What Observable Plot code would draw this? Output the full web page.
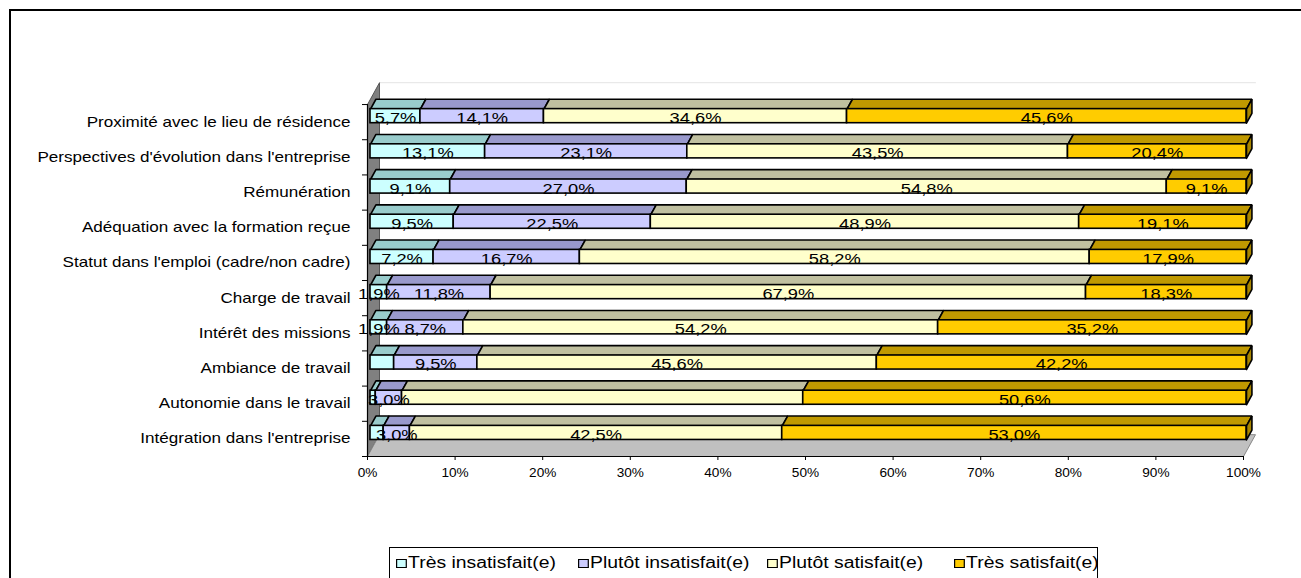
<!DOCTYPE html>
<html><head><meta charset="utf-8">
<script src="https://cdn.jsdelivr.net/npm/d3@7"></script>
<script src="https://cdn.jsdelivr.net/npm/@observablehq/plot@0.6"></script>
<style>
body{margin:0;background:#fff;font-family:Arial,"Liberation Sans",sans-serif;overflow:hidden;width:1301px;height:578px;position:relative}
#frame{position:absolute;left:9px;top:9px;width:1400px;height:700px;border:2px solid #000;box-sizing:border-box}
#chart{position:absolute;left:0;top:0;width:1301px}
#legend{position:absolute;left:389px;top:547px;width:709px;height:40px;border:1px solid #000;background:#fff;box-sizing:border-box}
.item{position:absolute;top:6px;font-size:16px;white-space:nowrap;display:flex;align-items:center;transform:scaleX(1.21);transform-origin:left center}
.sw{display:inline-block;width:7px;height:7px;border:1.5px solid #000;margin-right:1px}
</style></head><body>
<div id="frame"></div>
<div id="chart"></div>
<div id="legend"></div>
<script>
// ---- data ----
const categories = [
  "Proximité avec le lieu de résidence",
  "Perspectives d'évolution dans l'entreprise",
  "Rémunération",
  "Adéquation avec la formation reçue",
  "Statut dans l'emploi (cadre/non cadre)",
  "Charge de travail",
  "Intérêt des missions",
  "Ambiance de travail",
  "Autonomie dans le travail",
  "Intégration dans l'entreprise"
];
const series = ["Très insatisfait(e)", "Plutôt insatisfait(e)", "Plutôt satisfait(e)", "Très satisfait(e)"];
const tresInsatisfait   = [5.7, 13.1, 9.1, 9.5, 7.2, 1.9, 1.9, 2.7, 0.6, 1.5];
const plutotInsatisfait = [14.1, 23.1, 27.0, 22.5, 16.7, 11.8, 8.7, 9.5, 3.0, 3.0];
const plutotSatisfait   = [34.6, 43.5, 54.8, 48.9, 58.2, 67.9, 54.2, 45.6, 45.8, 42.5];
const tresSatisfait     = [45.6, 20.4, 9.1, 19.1, 17.9, 18.3, 35.2, 42.2, 50.6, 53.0];
const hiddenLabels = [["Ambiance de travail", 0], ["Autonomie dans le travail", 0], ["Autonomie dans le travail", 2], ["Intégration dans l'entreprise", 0]];
const xTicks = [0, 10, 20, 30, 40, 50, 60, 70, 80, 90, 100];

// ---- style ----
const frontColors = ["#CCFFFF", "#CCCCFF", "#FFFFCC", "#FFCC00"];
const topColors = ["#99CCCC", "#9999CC", "#C0C0A0", "#C09900"];
const sideColor = "#A88600";
const B0 = 0.47, B1 = 0.87;     // bar front face inside its band
const TX = 0.62, TY = 0.28;     // bar top face depth
const DX = 1.37, DY = 0.62;     // wall/floor depth
const font = 'Arial, "Liberation Sans", sans-serif';

const seriesValues = [tresInsatisfait, plutotInsatisfait, plutotSatisfait, tresSatisfait];
const fmt = v => v.toFixed(1).replace(".", ",") + "%";
const fronts = [], faces = [], labels = [], catLabels = [];
categories.forEach((cat, i) => {
  const k = categories.length - 1 - i;
  catLabels.push({cat, y: k + 0.5});
  const vals = seriesValues.map(a => a[i]);
  const total = d3.sum(vals);
  let cum = 0;
  vals.forEach((v, s) => {
    const x1 = cum / total * 100; cum += v; const x2 = cum / total * 100;
    fronts.push({x1, x2, y1: k + B0, y2: k + B1, fill: frontColors[s]});
    const id = i + "-" + s;
    [[x1, k + B1], [x2, k + B1], [x2 + TX, k + B1 + TY], [x1 + TX, k + B1 + TY], [x1, k + B1]]
      .forEach(([x, y]) => faces.push({id, x, y, fill: topColors[s]}));
    if (s === vals.length - 1) {
      [[x2, k + B0], [x2, k + B1], [x2 + TX, k + B1 + TY], [x2 + TX, k + B0 + TY], [x2, k + B0]]
        .forEach(([x, y]) => faces.push({id: id + "s", x, y, fill: sideColor}));
    }
    if (!hiddenLabels.some(([c, j]) => c === cat && j === s))
      labels.push({x: (x1 + x2) / 2, y: k + (B0 + B1) / 2, text: fmt(v)});
  });
});
const n = categories.length;
const wall = [[0, 0], [0, n], [DX, n + DY], [DX, DY], [0, 0]].map(([x, y]) => ({x, y}));
const floor = [[0, 0], [100, 0], [100 + DX, DY], [DX, DY], [0, 0]].map(([x, y]) => ({x, y}));
const backTop = [[DX, n + DY], [100 + DX, n + DY]].map(([x, y]) => ({x, y}));
const boundaries = d3.range(0, n + 1);

const plot = Plot.plot({
  width: 1301, height: 490,
  marginLeft: 367, marginRight: 58, marginTop: 79.4, marginBottom: 34,
  x: {type: "linear", domain: [0, 100], axis: null},
  y: {type: "linear", domain: [0, 10.7], axis: null},
  color: {type: "identity"},
  style: {fontFamily: font, fontSize: "13px", color: "#000", background: "transparent", overflow: "visible"},
  marks: [
    Plot.line(backTop, {x: "x", y: "y", stroke: "#e4e4e4", strokeWidth: 1}),
    Plot.line(wall, {x: "x", y: "y", fill: "#808080", stroke: "#555", strokeWidth: 1}),
    Plot.line(floor, {x: "x", y: "y", fill: "#C0C0C0", stroke: "#888", strokeWidth: 1}),
    Plot.line(faces, {x: "x", y: "y", z: "id", fill: "fill", stroke: "#000", strokeWidth: 1.6, strokeLinejoin: "miter", dx: 3}),
    Plot.rect(fronts, {x1: "x1", x2: "x2", y1: "y1", y2: "y2", fill: "fill", stroke: "#000", strokeWidth: 1.6, dx: 3}),
    Plot.text(labels, {x: "x", y: "y", text: "text", fontSize: 15.5, dx: 3, dy: 2, fill: "#000"}),
    Plot.ruleY([0], {x1: 0, x2: 100, stroke: "#000", strokeWidth: 1.2}),
    Plot.ruleX([0], {y1: 0, y2: n, stroke: "#000", strokeWidth: 1.2}),
    Plot.axisY({ticks: boundaries, tickFormat: () => "", tickSize: 5, anchor: "left"}),
    Plot.axisX({ticks: xTicks, tickFormat: d => d + "%", tickSize: 4, tickPadding: 7, fontSize: 13, anchor: "bottom"}),
    Plot.text(catLabels, {x: 0, y: "y", text: "cat", textAnchor: "end", dx: -17, fontSize: 14, fill: "#000"})
  ]
});
document.getElementById("chart").appendChild(plot);

// horizontally stretched glyphs, as in the original rendering
const labelTexts = new Set(labels.map(d => d.text));
function stretch(el, k) {
  const tr = el.getAttribute("transform");
  if (tr && tr.includes("translate")) {
    el.setAttribute("transform", tr + ` scale(${k},1)`);
  } else {
    const x = +(el.getAttribute("x") || 0);
    el.setAttribute("transform", `translate(${x},0) scale(${k},1) translate(${-x},0)` + (tr ? " " + tr : ""));
  }
}
d3.select(plot).selectAll("text").each(function () {
  const t = this.textContent;
  if (categories.includes(t)) stretch(this, 1.22);
  else if (labelTexts.has(t) && t.includes(",")) stretch(this, 1.18);
  else if (t.endsWith("%")) stretch(this, 1.05);
});

// legend
const legendX = [396, 578, 767, 954];
const leg = document.getElementById("legend");
series.forEach((s, i) => {
  const it = document.createElement("div");
  it.className = "item";
  it.style.left = (legendX[i] - 389 - 1) + "px";
  it.innerHTML = `<span class="sw" style="background:${frontColors[i]}"></span>${s}`;
  leg.appendChild(it);
});
</script>
</body></html>
